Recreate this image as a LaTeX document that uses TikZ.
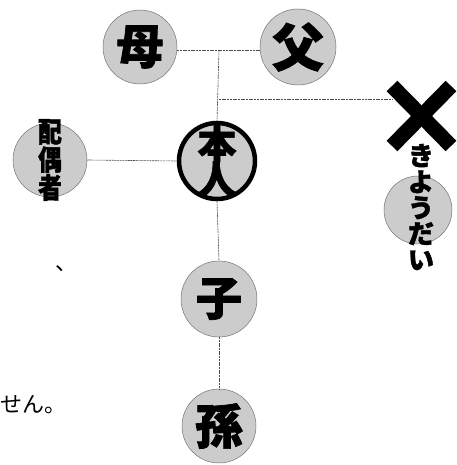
\documentclass[tikz,border=0pt]{standalone}
\usepackage{fontspec}
\newfontfamily\cjk{Noto Sans CJK JP}
\newfontfamily\cjkh[FakeBold=1.5]{Noto Sans CJK JP}
\begin{document}
\begin{tikzpicture}[x=1pt,y=-1pt,
  person/.style={circle, fill=black!20, draw=black!55, line width=0.5pt, minimum size=#1, inner sep=0pt},
  person/.default=74pt,
  kanji/.style={font=\cjkh\bfseries\fontsize{#1}{#1}\selectfont, text=black},
  link/.style={draw=black!70, line width=0.6pt, dash pattern=on 2pt off 0.7pt},
  cross/.style={line width=15pt, black}
]
\useasboundingbox (0,0) rectangle (456,465);

% circles
\node[person] (mother) at (140,47) {};
\node[kanji=47] at (mother) {母};
\node[person=76pt] (father) at (298,47) {};
\node[kanji=52] at (father) {父};
\node[person=76pt, draw=black, line width=4.5pt] (self) at (217,161) {};
\node[kanji=39, align=center, inner sep=0pt] at (self) {本\\[-3pt]人};
\node[person] (spouse) at (50,160) {};
\node[kanji=28, align=center, inner sep=0pt, xscale=0.85] at (spouse) {配\\偶\\者};
\node[person=76pt] (child) at (219,299) {};
\node[kanji=46] at (child) {子};
\node[person] (grand) at (219,426) {};
\node[kanji=48] at (grand) {孫};
\node[person=68pt] (sib) at (418,210) {};
\node[kanji=26, align=center, inner sep=0pt] (sibtext) at (421,207) {き\\よ\\う\\だ\\い};

% cross
\coordinate (xa) at (392,86);
\coordinate (xb) at (451,146);
\coordinate (xc) at (451,86);
\coordinate (xd) at (392,146);
\draw[cross] (xa) -- (xb);
\draw[cross] (xc) -- (xd);

% connectors
\coordinate (pmid) at (219,50);
\coordinate (sibj) at (219,99);
\coordinate (sibend) at (392,99);
\draw[link] (mother.east |- pmid) -- (father.west |- pmid);
\draw[link] (pmid) -- (self.north);
\draw[link] (sibj) -- (sibend);
\draw[link] (spouse.east) -- (self.west);
\draw[link] (self.south) -- (child.north);
\draw[link] (child.south) -- (grand.north);

% stray text fragments
\node[font=\cjk\fontsize{22}{22}\selectfont, anchor=base west, inner sep=0pt] (frag1) at (0,412) {せん。};
\node[font=\cjk\fontsize{22}{22}\selectfont, anchor=base west, inner sep=0pt] (frag2) at (55,270) {、};
\end{tikzpicture}
\end{document}
